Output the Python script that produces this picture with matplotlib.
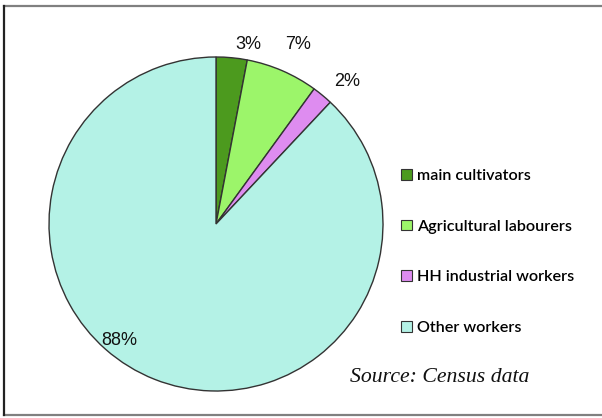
import numpy as np
import matplotlib
matplotlib.use("Agg")
import matplotlib.pyplot as plt
from matplotlib.patches import Patch
from matplotlib.lines import Line2D

categories = ["main cultivators", "Agricultural labourers", "HH industrial workers", "Other workers"]
shares = [3, 7, 2, 88]
colors = ["#4c9a1e", "#9cf56a", "#de8cf0", "#b4f2e6"]
# label placement per slice: radius (fraction of pie radius) and angular nudge in degrees
label_radius = [1.09, 1.18, 1.16, 0.91]
label_nudge = [-4.7, -1.2, -3.1, -18.1]

W, H = 602, 418
fig = plt.figure(figsize=(W / 100, H / 100), dpi=100)
fig.patch.set_facecolor("white")

# outer frame (top, left, bottom)
fig.add_artist(Line2D([4 / W, 1.0], [1 - 6 / H, 1 - 6 / H], transform=fig.transFigure,
                      color="#808080", linewidth=1.6))
fig.add_artist(Line2D([4 / W, 1.0], [1 - 415 / H, 1 - 415 / H], transform=fig.transFigure,
                      color="#808080", linewidth=1.6))
fig.add_artist(Line2D([4 / W, 4 / W], [1 - 6 / H, 1 - 415 / H], transform=fig.transFigure,
                      color="#222222", linewidth=1.6))

R = 167
cx, cy = 216, 224
ax = fig.add_axes([(cx - R) / W, (H - cy - R) / H, 2 * R / W, 2 * R / H])
wedges, _ = ax.pie(shares, colors=colors, startangle=90, counterclock=False, radius=1,
                   wedgeprops=dict(edgecolor="#333333", linewidth=1.0))
ax.set_xlim(-1, 1)
ax.set_ylim(-1, 1)
ax.set_aspect("equal")
ax.axis("off")

for w, val, rf, nd in zip(wedges, shares, label_radius, label_nudge):
    ang = np.deg2rad((w.theta1 + w.theta2) / 2 + nd)
    ax.text(rf * np.cos(ang), rf * np.sin(ang), f"{val}%", ha="center", va="center",
            fontsize=13, family="Liberation Sans", color="#111111")

handles = [Patch(facecolor=c, edgecolor="#333333", linewidth=0.8) for c in colors]
fig.legend(handles, categories, loc="upper left", bbox_to_anchor=(393 / W, 1 - 161 / H),
           frameon=False, prop=dict(family="Lato", size=11.6, weight="semibold"),
           handlelength=0.65, handleheight=0.65, handletextpad=0.35, labelspacing=2.27,
           borderpad=0)

fig.text(350 / W, 1 - 378 / H, "Source: Census data", ha="left", va="center",
         fontsize=15.7, family="Liberation Serif", style="italic", color="#111111")

fig.savefig("out.png", dpi=100)
